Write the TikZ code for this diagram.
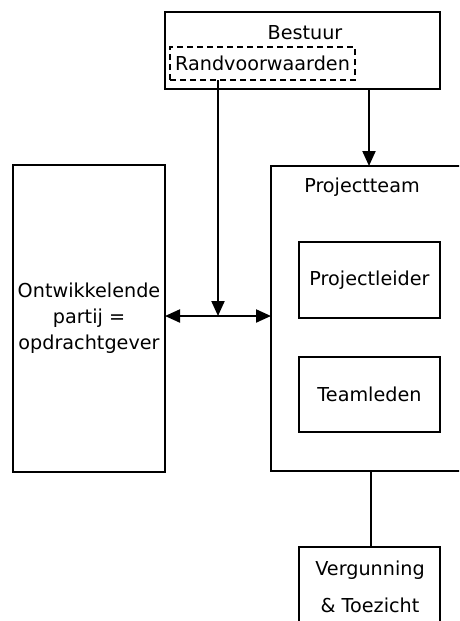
\documentclass[tikz,border=0pt]{standalone}
\usepackage{fontspec}
\setmainfont{DejaVu Sans}
\usetikzlibrary{arrows.meta}
\begin{document}
\begin{tikzpicture}[x=1pt,y=-1pt,
  box/.style={draw, line width=2.2pt, rectangle, inner sep=0pt, outer sep=0pt},
  txt/.style={font=\fontsize{19.2}{26}\selectfont, inner sep=0pt, align=center},
  conn/.style={line width=2.1pt},
  arr/.style={-{Triangle[length=15pt,width=13pt]}},
  darr/.style={{Triangle[length=15pt,width=13pt]}-{Triangle[length=15pt,width=13pt]}}
]
\useasboundingbox (0,0) rectangle (459,621);
\fill[white] (0,0) rectangle (459,621);
\clip (0,0) rectangle (459,621);

% top: board with its preconditions
\node[box, minimum width=275pt, minimum height=77pt] (bestuur) at (302.5,50.5) {};
\node[txt] (bestuurtxt) at (305,33) {Bestuur};
\node[box, line width=2pt, dash pattern=on 6pt off 4pt, txt,
      minimum width=185pt, minimum height=33pt] (rand) at (262.5,63.5) {Randvoorwaarden};

% left: developing party
\node[box, txt, minimum width=152pt, minimum height=307pt] (ontw) at (89,318.5)
  {Ontwikkelende\\partij =\\opdrachtgever};

% right: project team and its members
\node[box, minimum width=209pt, minimum height=305pt] (team) at (375.5,318.5) {};
\node[txt] (teamtxt) at (362,187) {Projectteam};
\node[box, txt, minimum width=141pt, minimum height=76pt] (leider) at (369.5,280) {Projectleider};
\node[box, txt, minimum width=141pt, minimum height=75pt] (leden) at (369.5,394.5) {Teamleden};

% bottom: permits and supervision
\node[box, minimum width=141pt, minimum height=98pt] (verg) at (369.5,596) {};
\node[txt, font=\fontsize{19.2}{37}\selectfont] (vergtxt) at (370,586.5) {Vergunning\\\&~Toezicht};

% connectors
\coordinate (join) at (218,316);
\coordinate (bt) at (369,0);
\coordinate (tv) at (371,0);
\draw[conn, darr] (ontw.east |- join) -- (team.west |- join);
\draw[conn, arr] (join |- rand.south) -- (join);
\draw[conn, arr] (bestuur.south -| bt) -- (team.north -| bt);
\draw[conn] (team.south -| tv) -- (verg.north -| tv);
\end{tikzpicture}
\end{document}
